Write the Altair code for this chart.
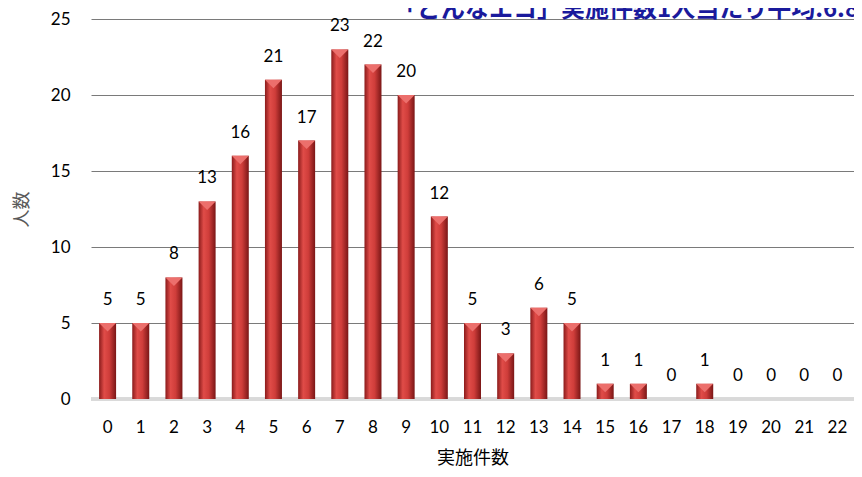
import altair as alt
import pandas as pd

categories = [str(i) for i in range(23)]
counts = [5, 5, 8, 13, 16, 21, 17, 23, 22, 20, 12, 5, 3, 6, 5, 1, 1, 0, 1, 0, 0, 0, 0]
title_text = "「どんなエコ」実施件数1人当たり平均:6.8件"

df = pd.DataFrame({"cat": categories, "n": counts})

FONT = "Lato"
CJK = "Noto Sans CJK JP"

x = alt.X("cat:N", sort=categories, title="実施件数",
          scale=alt.Scale(paddingInner=0.49, paddingOuter=0.245),
          axis=alt.Axis(labelAngle=0, labelFont=FONT, labelFontSize=17, labelColor="#000000",
                        labelPadding=20, ticks=False, domain=False,
                        titleFont=CJK, titleFontSize=18, titleFontWeight="normal",
                        titleColor="#000000", titlePadding=14))
y = alt.Y("n:Q", title="人数",
          scale=alt.Scale(domain=[0, 25], nice=False),
          axis=alt.Axis(values=[0, 5, 10, 15, 20, 25], labelFont=FONT, labelFontSize=17,
                        labelColor="#000000", labelPadding=21, ticks=False, domain=False,
                        grid=True, gridColor="#7a7a7a", gridWidth=1,
                        titleFont=CJK, titleFontSize=18, titleFontWeight="normal",
                        titleColor="#595959", titlePadding=19))

bars = alt.Chart(df).mark_bar(
    size=17,
    color=alt.Gradient(
        gradient="linear", x1=0, x2=1, y1=0, y2=0,
        stops=[alt.GradientStop(offset=0, color="#8a1b1b"),
               alt.GradientStop(offset=0.3, color="#e04c48"),
               alt.GradientStop(offset=0.6, color="#cf3d3a"),
               alt.GradientStop(offset=1, color="#7a1616")]),
).encode(x=x, y=y)

caps = alt.Chart(df).transform_filter("datum.n > 0").mark_point(
    shape="M-1,-1L1,-1L0,0Z", size=289, filled=True, opacity=1,
    color="#ec6f6c", strokeWidth=0
).encode(x=alt.X("cat:N", sort=categories), y="n:Q", yOffset=alt.value(8.5))

labels = alt.Chart(df).mark_text(
    font=FONT, fontSize=17, color="#000000", baseline="bottom", dy=-14
).encode(x=alt.X("cat:N", sort=categories), y="n:Q", text="n:Q")

zero = alt.Chart(df).mark_rule(color="#d9d9d9", strokeWidth=3).encode(
    x=alt.value(0), x2=alt.value(763), y=alt.datum(0))

title = alt.Chart(pd.DataFrame({"t": [title_text]})).mark_text(
    font=CJK, fontSize=24, fontWeight="bold", color="#1a1a9c",
    align="left", baseline="alphabetic"
).encode(x=alt.value(302), y=alt.value(-2), text="t:N")

chart = alt.layer(zero, bars, caps, labels, title).properties(
    width=763, height=380,
    autosize=alt.AutoSizeParams(type="none"),
    padding={"left": 83, "top": 11, "right": 0, "bottom": 70},
).configure_view(stroke=None)

chart.save("out.html", embed_options={"renderer": "svg", "actions": False})
